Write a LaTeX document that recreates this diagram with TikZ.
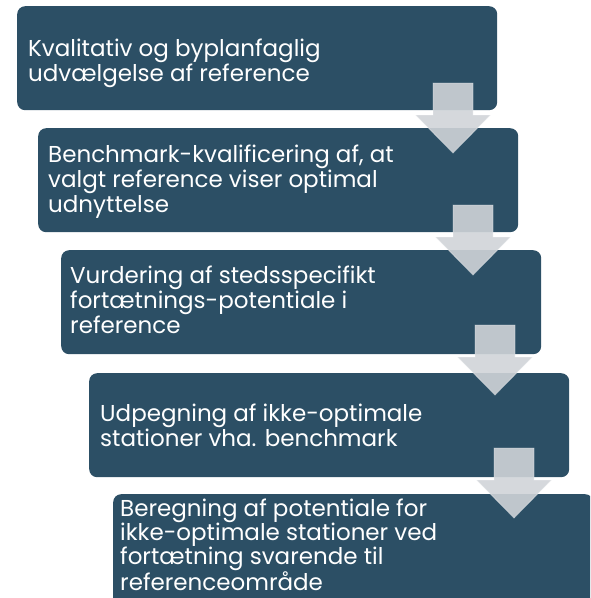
\documentclass[tikz,border=0pt]{standalone}
\usepackage{fontspec}
\setmainfont{Poppins}
\definecolor{boxblue}{HTML}{2C4F65}
\definecolor{arrowgray}{HTML}{D0D4D8}
\newcommand{\boxtext}[2][25]{\parbox[t]{470pt}{\raggedright\fontsize{23}{#1}\selectfont #2}}
\tikzset{
  box/.style={fill=boxblue, rounded corners=8pt, inner sep=0pt, minimum width=480pt, minimum height=104pt, anchor=north west},
  txt/.style={text=white, inner sep=0pt, anchor=base west},
  arrowfill/.style={fill=arrowgray, fill opacity=0.9, draw=white, draw opacity=0.35, line width=0.8pt},
  darrow/.pic={\path[arrowfill] (-20,0) -- (20,0) -- (20,32) -- (37.5,32) -- (0,70) -- (-37.5,32) -- (-20,32) -- cycle;}
}
\begin{document}
\begin{tikzpicture}[x=1pt,y=-1pt]
\useasboundingbox (0,0) rectangle (590,598);
\clip (0,0) rectangle (590,598);
\node[box] (b1) at (17,6) {};
\node[box] (b2) at (38,128) {};
\node[box] (b3) at (61,250) {};
\node[box] (b4) at (89,373) {};
\node[box, minimum height=120pt] (b5) at (113,494) {};
\coordinate (a1) at (453,83);
\coordinate (a2) at (473,205);
\coordinate (a3) at (495,325);
\coordinate (a4) at (514,448);
\pic at (a1) {darrow};
\pic at (a2) {darrow};
\pic at (a3) {darrow};
\pic at (a4) {darrow};
\node[txt] (t1) at (28,56) {\boxtext{Kvalitativ og byplanfaglig\\udvælgelse af reference}};
\node[txt] (t2) at (48,162) {\boxtext{Benchmark-kvalificering af, at\\valgt reference viser optimal\\udnyttelse}};
\node[txt] (t3) at (70,283) {\boxtext{Vurdering af stedsspecifikt\\fortætnings-potentiale i\\reference}};
\node[txt] (t4) at (100,421) {\boxtext{Udpegning af ikke-optimale\\stationer vha. benchmark}};
\node[txt] (t5) at (120,516) {\boxtext[24.3]{Beregning af potentiale for\\ikke-optimale stationer ved\\fortætning svarende til\\referenceområde}};
\end{tikzpicture}
\end{document}
